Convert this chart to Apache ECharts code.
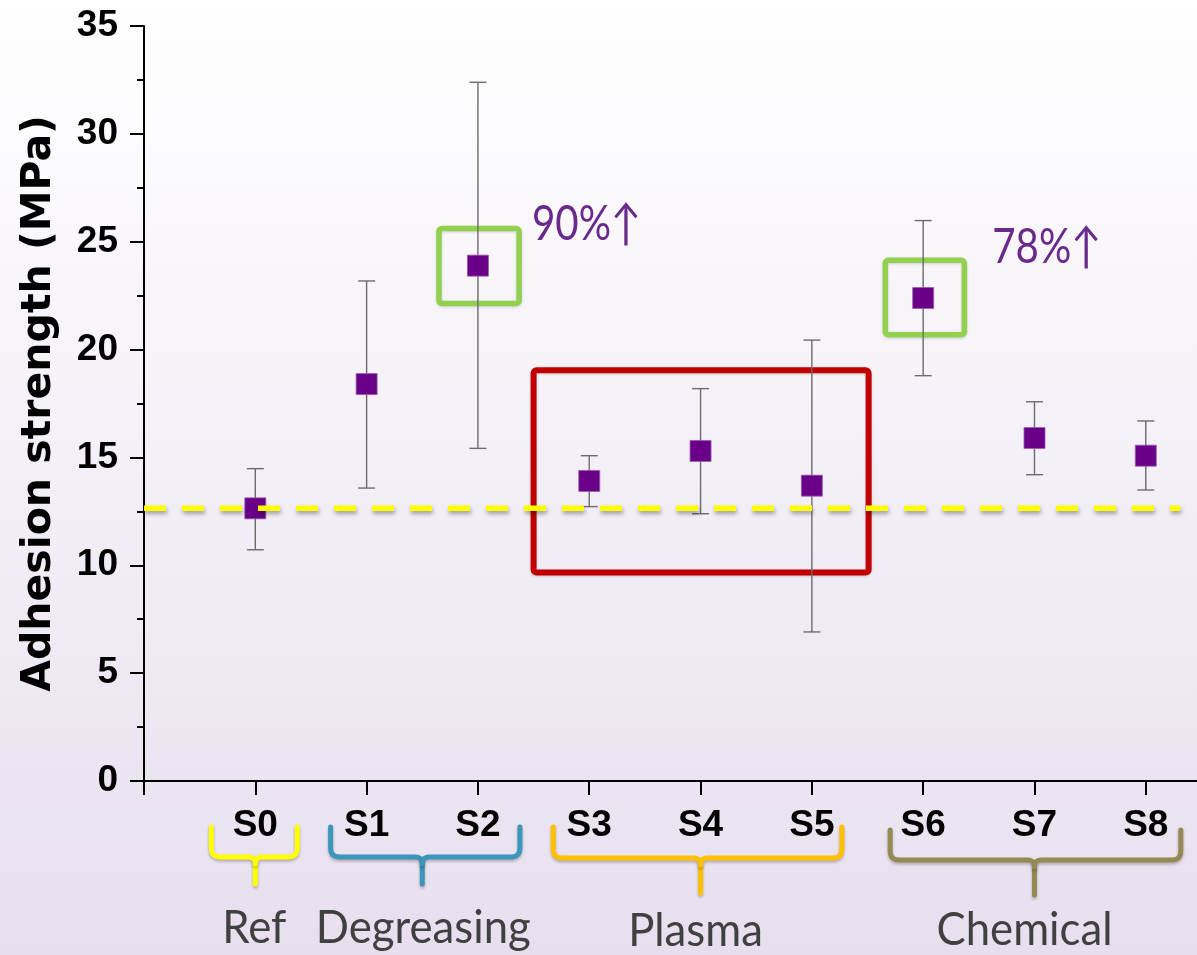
<!DOCTYPE html>
<html><head><meta charset="utf-8">
<script src="https://cdn.jsdelivr.net/npm/echarts@6/dist/echarts.min.js"></script>
<style>html,body{margin:0;padding:0;background:#fff;}#c{width:1197px;height:955px;}</style>
</head><body><div id="c"></div>
<script>
// ---- data ----
const categories = ['S0','S1','S2','S3','S4','S5','S6','S7','S8'];
const means = [12.64, 18.40, 23.89, 13.91, 15.30, 13.69, 22.39, 15.90, 15.08];
const upper = [14.48, 23.18, 32.39, 15.08, 18.19, 20.44, 25.98, 17.58, 16.69];
const lower = [10.72, 13.58, 15.42, 12.72, 12.39, 6.91, 18.79, 14.20, 13.49];
const yTicks = [0, 5, 10, 15, 20, 25, 30, 35];
const groupNames = ['Ref', 'Degreasing', 'Plasma', 'Chemical'];
const groupRanges = [[0,0],[1,2],[3,5],[6,8]];
const refLevel = 12.64;
const annotations = [{text: '90%↑', idx: 2}, {text: '78%↑', idx: 6}];
const highlightGreen = [2, 6];
const highlightRed = [3, 5];

// ---- layout (positions / styles) ----
const XMAX = 9.46;
const xPos = categories.map((c, i) => i + 1);
const groupColors = ['#ffff00', '#3b96b9', '#ffc000', '#948a54'];
const purple = '#6a0088';

const chart = echarts.init(document.getElementById('c'));

const errData = categories.map((c, i) => [xPos[i], lower[i], upper[i]]);
const ptData = categories.map((c, i) => [xPos[i], means[i]]);
// annotation boxes in data units: [x0, x1, y0, y1]
const boxData = [
  [xPos[highlightGreen[0]] - 0.35, xPos[highlightGreen[0]] + 0.37, means[highlightGreen[0]] - 1.75, means[highlightGreen[0]] + 1.72, 'g'],
  [xPos[highlightGreen[1]] - 0.34, xPos[highlightGreen[1]] + 0.37, means[highlightGreen[1]] - 1.70, means[highlightGreen[1]] + 1.75, 'g'],
  [xPos[highlightRed[0]] - 0.50, xPos[highlightRed[1]] + 0.51, 9.66, 19.04, 'r']
];

const tickFont = {fontFamily: 'Liberation Sans, Arial, sans-serif', fontWeight: 'bold', fontSize: 37, color: '#000'};

const option = {
  backgroundColor: {type: 'linear', x: 0, y: 0, x2: 0, y2: 1,
    colorStops: [{offset: 0, color: '#ffffff'}, {offset: 1, color: '#e7dfee'}]},
  animation: false,
  grid: {left: 144, right: 0, top: 26, bottom: 174, containLabel: false},
  xAxis: {
    type: 'value', min: 0, max: XMAX, interval: 1,
    axisLine: {show: true, lineStyle: {color: '#000', width: 2}},
    axisTick: {show: true, length: 14, lineStyle: {color: '#000', width: 2},
      customValues: [0].concat(xPos)},
    axisLabel: Object.assign({margin: 26, customValues: xPos,
      formatter: v => categories[Math.round(v) - 1] || ''}, tickFont),
    splitLine: {show: false}
  },
  yAxis: {
    type: 'value', min: 0, max: 35, interval: 5,
    name: 'Adhesion strength (MPa)', nameLocation: 'middle', nameGap: 84,
    nameTextStyle: {fontFamily: 'DejaVu Sans', fontWeight: 'bold', fontSize: 41, color: '#000'},
    axisLine: {show: true, lineStyle: {color: '#000', width: 2}},
    axisTick: {show: true, length: 14, lineStyle: {color: '#000', width: 2}},
    minorTick: {show: true, splitNumber: 2, length: 7, lineStyle: {color: '#000', width: 2}},
    axisLabel: Object.assign({margin: 26, customValues: yTicks}, tickFont),
    splitLine: {show: false}
  },
  series: [
    {
      type: 'custom', name: 'boxes', z: 3, clip: false,
      data: boxData,
      renderItem: (params, api) => {
        const d = boxData[params.dataIndex];
        const p0 = api.coord([d[0], d[3]]);
        const p1 = api.coord([d[1], d[2]]);
        const isG = d[4] === 'g';
        return {type: 'rect', shape: {x: p0[0], y: p0[1], width: p1[0] - p0[0], height: p1[1] - p0[1], r: 3},
          style: {fill: 'none', stroke: isG ? '#92d050' : '#c00000', lineWidth: isG ? 5.5 : 6,
            shadowColor: 'rgba(0,0,0,0.15)', shadowBlur: 3, shadowOffsetY: 1}};
      }
    },
    {
      type: 'custom', name: 'err', z: 4,
      data: errData,
      encode: {x: 0, y: [1, 2]},
      renderItem: (params, api) => {
        const x = api.value(0);
        const lo = api.coord([x, api.value(1)]);
        const hi = api.coord([x, api.value(2)]);
        const cap = 8.5;
        const st = {stroke: '#6b6b6b', lineWidth: 1.4};
        return {type: 'group', children: [
          {type: 'line', shape: {x1: hi[0], y1: hi[1], x2: lo[0], y2: lo[1]}, style: st},
          {type: 'line', shape: {x1: hi[0] - cap, y1: hi[1], x2: hi[0] + cap, y2: hi[1]}, style: st},
          {type: 'line', shape: {x1: lo[0] - cap, y1: lo[1], x2: lo[0] + cap, y2: lo[1]}, style: st}
        ]};
      }
    },
    {
      type: 'scatter', name: 'mean', z: 5,
      symbol: 'rect', symbolSize: 21,
      itemStyle: {color: purple, borderColor: '#9a5bb0', borderWidth: 0.8, opacity: 1},
      data: ptData
    },
    {
      type: 'line', name: 'ref', z: 6, silent: true,
      showSymbol: false, symbol: 'none',
      data: [[0, refLevel], [9.31, refLevel]],
      lineStyle: {color: '#ffff00', width: 5.5, type: [22, 16],
        shadowColor: 'rgba(0,0,0,0.35)', shadowBlur: 4, shadowOffsetY: 3, shadowOffsetX: 1}
    },
    {
      type: 'custom', name: 'notes', z: 7, clip: false,
      data: annotations.map(a => [xPos[a.idx], means[a.idx]]),
      renderItem: (params, api) => {
        const a = annotations[params.dataIndex];
        const p = api.coord([api.value(0), api.value(1)]);
        const dx = params.dataIndex === 0 ? 54 : 69;
        const dy = params.dataIndex === 0 ? -41 : -51;
        return {type: 'text', x: p[0] + dx, y: p[1] + dy, scaleX: 0.84, scaleY: 1.02,
          style: {text: a.text, fill: '#6a2a8c', font: '48px Lato, sans-serif',
            textAlign: 'left', textVerticalAlign: 'middle'}};
      }
    }
  ]
};
chart.setOption(option);

// group brackets and names below the axis
function quad(p0, c, p1, n) {
  const pts = [];
  for (let i = 1; i <= n; i++) {
    const t = i / n, u = 1 - t;
    pts.push([u*u*p0[0] + 2*u*t*c[0] + t*t*p1[0], u*u*p0[1] + 2*u*t*c[1] + t*t*p1[1]]);
  }
  return pts;
}
const bracketPad = [[44, 42], [36, 42], [36, 30], [33, 35]];
const bracketY = [[827, 857, 884], [827, 857, 884], [827, 858, 893], [830, 860, 895]];
const nameY = [928, 928, 931, 930];
const nameDx = [-1, 1, -5, -10];
const graphics = [];
groupRanges.forEach((r, g) => {
  const xa = chart.convertToPixel({gridIndex: 0}, [xPos[r[0]], 0])[0];
  const xb = chart.convertToPixel({gridIndex: 0}, [xPos[r[1]], 0])[0];
  const L = xa - bracketPad[g][0], R = xb + bracketPad[g][1], C = (xa + xb) / 2;
  const [top, h, bot] = bracketY[g];
  const rr = 9, rc = 7;
  const left = [[L, top], [L, h - rr]].concat(quad([L, h - rr], [L, h], [L + rr, h], 6))
    .concat([[C - rc, h]]).concat(quad([C - rc, h], [C, h], [C, h + rc], 6)).concat([[C, bot]]);
  const right = [[R, top], [R, h - rr]].concat(quad([R, h - rr], [R, h], [R - rr, h], 6))
    .concat([[C + rc, h]]).concat(quad([C + rc, h], [C, h], [C, h + rc], 6));
  const st = {fill: null, stroke: groupColors[g], lineWidth: 5, lineCap: 'round', lineJoin: 'round',
      shadowColor: 'rgba(0,0,0,0.25)', shadowBlur: 3, shadowOffsetY: 2};
  graphics.push({type: 'polyline', shape: {points: left}, silent: true, style: st});
  graphics.push({type: 'polyline', shape: {points: right}, silent: true, style: st});
  graphics.push({type: 'text', x: C + nameDx[g], y: nameY[g], silent: true, scaleX: 0.95,
    style: {text: groupNames[g], fill: '#404040', font: '46px Lato, sans-serif',
      textAlign: 'center', textVerticalAlign: 'middle'}});
});
chart.setOption({graphic: graphics});
</script>
</body></html>
